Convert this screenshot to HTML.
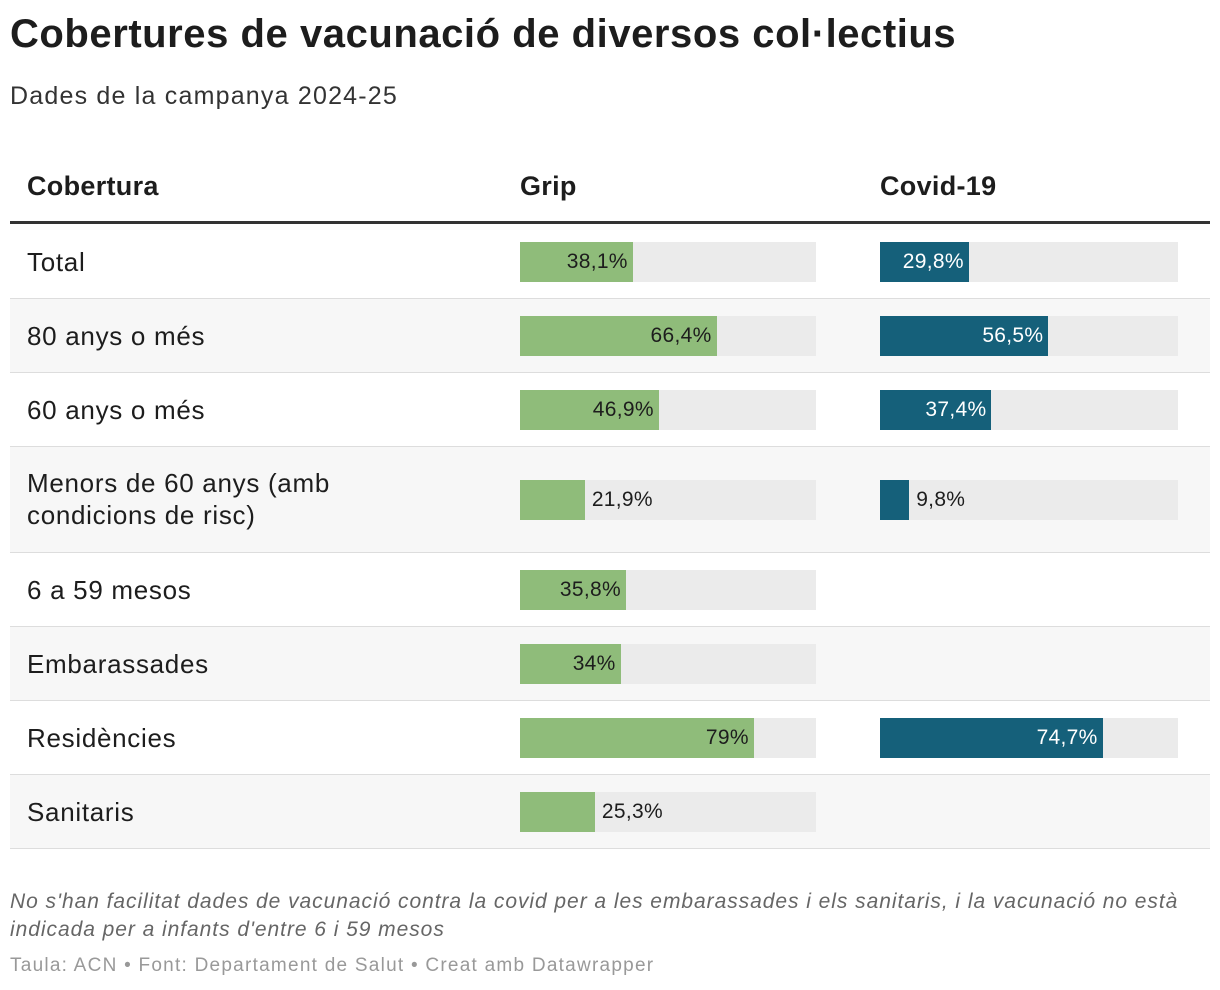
<!DOCTYPE html>
<html><head><meta charset="utf-8"><style>
body{margin:0;width:1220px;height:990px;background:#fff;font-family:"Liberation Sans",sans-serif;color:#1d1d1d;position:relative;overflow:hidden}
.abs{position:absolute}
#title{left:10px;top:12px;font-size:40px;font-weight:bold;letter-spacing:0.55px}
#subtitle{left:10px;top:82px;font-size:25px;color:#333;letter-spacing:1.2px}
.hdr{top:171px;font-size:27px;font-weight:bold;letter-spacing:0.3px}
#hline{left:10px;top:221px;width:1200px;height:3px;background:#333}
.row{position:absolute;left:10px;width:1200px;border-bottom:1px solid #ddd;box-sizing:border-box}
.lbl{position:absolute;left:17px;font-size:26px;line-height:32px;letter-spacing:0.7px}
.bg{position:absolute;height:40px;background:#ebebeb}
.fill{position:absolute;left:0;top:0;height:40px}
.val{position:absolute;top:0;line-height:40px;font-size:21px;white-space:nowrap;letter-spacing:0.3px}
#note{left:10px;top:888px;font-size:21px;font-style:italic;color:#666;line-height:28px;width:1200px;letter-spacing:0.95px}
#credit{left:10px;top:955px;font-size:19px;color:#999;letter-spacing:1.25px}
</style></head><body>
<div id="title" class="abs">Cobertures de vacunació de diversos col·lectius</div>
<div id="subtitle" class="abs">Dades de la campanya 2024-25</div>
<div class="abs hdr" style="left:27px">Cobertura</div>
<div class="abs hdr" style="left:520px">Grip</div>
<div class="abs hdr" style="left:880px">Covid-19</div>
<div id="hline" class="abs"></div>
<div id="table"></div>
<div id="note" class="abs">No s'han facilitat dades de vacunació contra la covid per a les embarassades i els sanitaris, i la vacunació no està indicada per a infants d'entre 6 i 59 mesos</div>
<div id="credit" class="abs">Taula: ACN • Font: Departament de Salut • Creat amb Datawrapper</div>
<script>
const categories=["Total","80 anys o més","60 anys o més","Menors de 60 anys (amb condicions de risc)","6 a 59 mesos","Embarassades","Residències","Sanitaris"];
const gripValues=[38.1,66.4,46.9,21.9,35.8,34,79,25.3];
const covidValues=[29.8,56.5,37.4,9.8,null,null,74.7,null];
const rowHeights=[75,74,74,106,74,74,74,74];
const fmt=v=>String(v).replace('.',',')+'%';
const table=document.getElementById('table');
let y=224;
function bar(row,x,w,v,color,textColor,top){
  const bg=document.createElement('div');bg.className='bg';
  bg.style.left=x+'px';bg.style.top=top+'px';bg.style.width=w+'px';
  
  
  const f=document.createElement('div');f.className='fill';
  const fw=v/100*w;f.style.width=fw+'px';f.style.background=color;
  
  
  bg.appendChild(f);
  const t=document.createElement('div');t.className='val';t.textContent=fmt(v);
  
  
  if(v>=28){t.style.right=(w-fw+5)+'px';t.style.color=textColor;}
  else{t.style.left=(fw+7)+'px';t.style.color='#1d1d1d';}
  bg.appendChild(t);row.appendChild(bg);
}
categories.forEach((c,i)=>{
  const h=rowHeights[i];
  const r=document.createElement('div');r.className='row';
  
  
  r.style.top=y+'px';r.style.height=h+'px';
  r.style.background=i%2?'#f7f7f7':'#fff';
  const l=document.createElement('div');l.className='lbl';
  
  
  l.textContent=c;
  if(c.length>30){l.innerHTML='Menors de 60 anys (amb<br>condicions de risc)';}
  l.style.top=(c.length>30?(h/2-33):(h/2-16))+'px';
  r.appendChild(l);
  const top=Math.round(h/2-20);
  bar(r,510,296,gripValues[i],'#8fbc7a','#1d1d1d',top);
  if(covidValues[i]!=null) bar(r,870,298,covidValues[i],'#15607a','#fff',top);
  table.appendChild(r);
  y+=h;
});
</script>
</body></html>
